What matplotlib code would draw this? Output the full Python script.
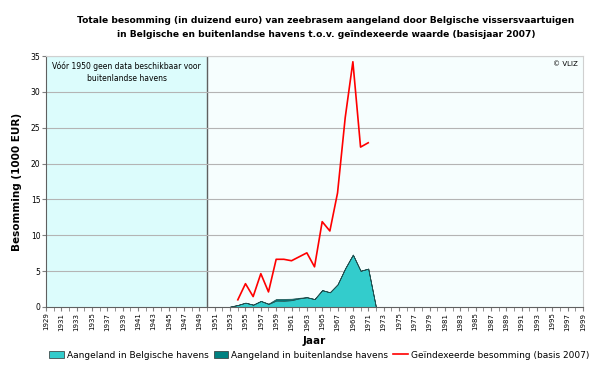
import numpy as np
import matplotlib.pyplot as plt
from matplotlib.patches import Patch
from matplotlib.lines import Line2D

# ------------------------------------------------------------
# Data (1000 EUR)
# ------------------------------------------------------------

area_years = list(range(1953, 1973))
belgisch = [0.05, 0.28, 0.6, 0.32, 0.84, 0.42, 0.9, 0.88, 0.95, 1.2,
            1.35, 1.1, 2.35, 2.05, 3.15, 5.4, 7.3, 5.05, 5.35, 0.0]
buitenland = [0.0, 0.0, 0.0, 0.0, 0.0, 0.05, 0.22, 0.25, 0.2, 0.08,
              0.03, 0.0, 0.0, 0.0, 0.0, 0.0, 0.0, 0.0, 0.0, 0.0]

index_years = list(range(1954, 1972))
geindexeerd = [1.0, 3.25, 1.45, 4.65, 2.1, 6.65, 6.65, 6.45, 7.0, 7.55,
               5.6, 11.9, 10.6, 15.9, 26.4, 34.2, 22.3, 22.9]

tick_years = list(range(1929, 2000, 2))

# ------------------------------------------------------------
# Plot
# ------------------------------------------------------------

plt.rcParams["font.family"] = ["DejaVu Sans"]

fig = plt.figure(figsize=(6, 3.68), dpi=100)
ax = fig.add_axes([0.0767, 0.1658, 0.895, 0.682])

ax.set_facecolor("#F6FEFE")
ax.axvspan(1929, 1950, color="#DCFCFC", zorder=0)
ax.axvline(1950, color="#606060", lw=1.0, zorder=1)

for v in range(5, 36, 5):
    ax.axhline(v, color="#B4B4B4", lw=0.8, zorder=1)

ax.stackplot(area_years, belgisch, buitenland,
             colors=["#33CCCC", "#008080"],
             edgecolor="#1F5050", linewidth=0.5, zorder=2)

ax.plot(index_years, geindexeerd, color="#FF0000", lw=1.2, zorder=3)

ax.set_xlim(1929, 1999)
ax.set_ylim(0, 35)

ax.set_xticks(tick_years)
ax.set_xticklabels([str(y) for y in tick_years], rotation=90, fontsize=5)
ax.set_xticks(range(1929, 2000), minor=True)
ax.set_yticks(range(0, 36, 5))
ax.tick_params(axis="y", labelsize=5.5, length=3, color="#808080", pad=1)
ax.tick_params(axis="x", which="both", length=3, color="#808080", pad=1)

for s in ["top", "right"]:
    ax.spines[s].set_color("#D0D0D0")
for s in ["left", "bottom"]:
    ax.spines[s].set_color("#606060")

ax.set_xlabel("Jaar", fontsize=7.5, fontweight="bold", labelpad=4)
ax.set_ylabel("Besomming (1000 EUR)", fontsize=7.5, fontweight="bold", labelpad=6)

fig.text(0.543, 0.925,
         "Totale besomming (in duizend euro) van zeebrasem aangeland door Belgische vissersvaartuigen\n"
         "in Belgische en buitenlandse havens t.o.v. geïndexeerde waarde (basisjaar 2007)",
         ha="center", va="center", fontsize=6.6, fontweight="bold", linespacing=1.6)

ax.text(1939.5, 34.3, "Vóór 1950 geen data beschikbaar voor\nbuitenlandse havens",
        ha="center", va="top", fontsize=5.5, linespacing=1.5)
ax.text(1998.3, 34.3, "© VLIZ", ha="right", va="top", fontsize=5)

handles = [
    Patch(facecolor="#33CCCC", edgecolor="#303030", lw=0.5),
    Patch(facecolor="#008080", edgecolor="#303030", lw=0.5),
    Line2D([0], [0], color="#FF0000", lw=1.2),
]
labels = ["Aangeland in Belgische havens", "Aangeland in buitenlandse havens",
          "Geïndexeerde besomming (basis 2007)"]
fig.legend(handles, labels, loc="center", bbox_to_anchor=(0.532, 0.035), ncol=3,
           frameon=False, fontsize=6.5, handlelength=1.6, handletextpad=0.3,
           columnspacing=0.6)

fig.savefig("out.png", dpi=100)
